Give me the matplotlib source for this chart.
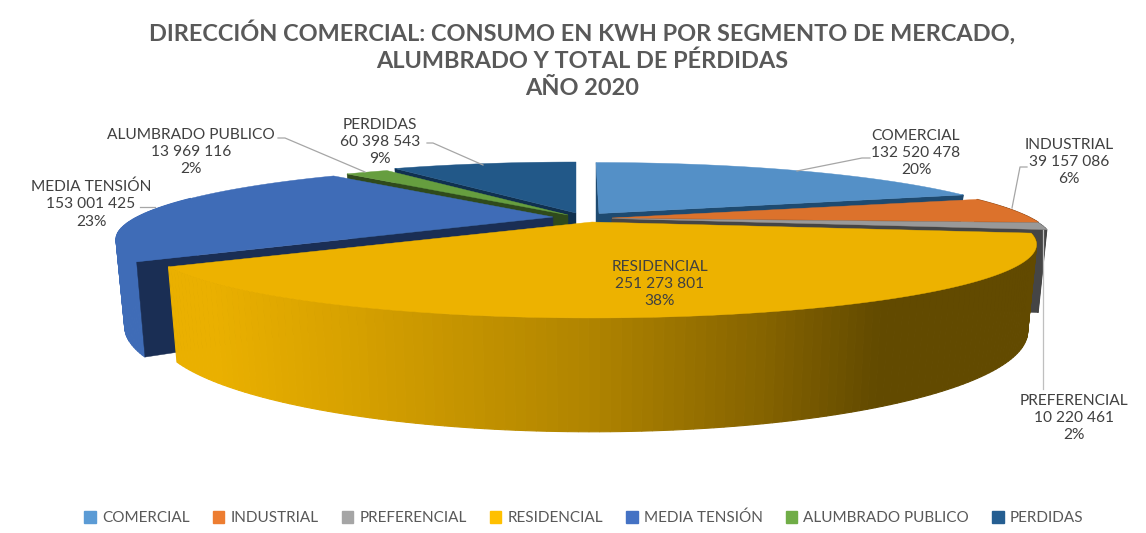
import numpy as np
import matplotlib
matplotlib.use("Agg")
import matplotlib.pyplot as plt
from matplotlib.patches import Patch

plt.rcParams['font.family'] = ['Lato', 'DejaVu Sans']

# datos
categorias = ["COMERCIAL", "INDUSTRIAL", "PREFERENCIAL", "RESIDENCIAL",
              "MEDIA TENSIÓN", "ALUMBRADO PUBLICO", "PERDIDAS"]
consumo = [132520478, 39157086, 10220461, 251273801, 153001425, 13969116, 60398543]

# estilo de cada porcion
color_top = ["#5490C7", "#DC722C", "#999999", "#EDB200", "#3F6CB7", "#669E3F", "#225888"]
color_pared = ["#1E4A70", "#7A3F14", "#454545", "#6B5000", "#1A2E54", "#2F4A1C", "#10304F"]
color_borde = ["#1E4A70", "#7A3F14", "#454545", "#EDB200", "#3F6CB7", "#2F4A1C", "#10304F"]
color_leyenda = ["#5B9BD5", "#ED7D31", "#A5A5A5", "#FFC000", "#4472C4", "#70AD47", "#255E91"]
vertices = [(599, 213.5), (612, 218), (612, 218.5), (592, 222), (553, 217), (568, 215), (576, 213)]
escala = [1, 1, 1, 1.01, 0.993, 1, 1]
sesgo = [3, 0, 0, 0, 0, 0, 0]
pos_texto = [(916, 153), (1069, 162), (1074, 418), (660, 284), (91, 204), (191, 152), (380, 142)]
lineas = [
    [(870, 158), (862, 158), (797, 171)],
    [(1027, 167), (1020, 167), (1012, 208)],
    [(1043, 389), (1043, 230)],
    [],
    [(140, 207), (155, 207)],
    [(278, 138), (285, 138), (365, 172)],
    [(427, 143), (433, 143), (483, 165)],
]
color_linea = ["#A6A6A6", "#A6A6A6", "#BFBFBF", "#A6A6A6", "#A6A6A6", "#A6A6A6", "#A6A6A6"]

# perspectiva de la elipse
A, B, K, D0 = 419.0, 66.6, 0.306, 79.0
LIM_VIS = np.degrees(np.arccos(K))  # la pared exterior se ve entre estos angulos


def proyectar(theta, i, z=0.0, r=1.0):
    th = np.radians(theta)
    u = r * np.sin(th)
    v = -r * np.cos(th)
    den = 1 - K * v
    x = vertices[i][0] + A * escala[i] * u / den * (1 - 0.02 * z) + sesgo[i] * v
    y = vertices[i][1] + B * v / den + z * D0 / den
    return x, y


def color_residencial(x):
    # degradado de la pared de la porcion amarilla
    xs = [210, 340, 590, 760, 880, 1040]
    rs = [234, 216, 176, 134, 98, 98]
    gs = [176, 162, 132, 100, 74, 74]
    return (np.interp(x, xs, rs) / 255, np.interp(x, xs, gs) / 255, 0)


def pared_radial(ang, i, capa):
    x0, y0 = proyectar(ang, i, 0, 0)
    x1, y1 = proyectar(ang, i, 0)
    x2, y2 = proyectar(ang, i, 1)
    x3, y3 = proyectar(ang, i, 1, 0)
    ax.fill([x0, x1, x2, x3], [y0, y1, y2, y3], color=color_pared[i], lw=0.3, zorder=capa)


fig = plt.figure(figsize=(11.46, 5.33), dpi=100, facecolor="white")
ax = fig.add_axes([0, 0, 1, 1])
ax.set_xlim(0, 1146)
ax.set_ylim(533, 0)
ax.axis("off")

total = sum(consumo)
fin = np.cumsum(consumo) / total * 360
ini = np.concatenate([[0], fin[:-1]])

# de atras hacia adelante
for capa, i in enumerate([6, 5, 4, 0, 1, 2, 3]):
    a0, a1 = ini[i], fin[i]
    th = np.linspace(a0, a1, 200)

    # pared exterior
    b0, b1 = max(a0, LIM_VIS), min(a1, 360 - LIM_VIS)
    if b1 > b0:
        tiras = np.linspace(b0, b1, max(2, int(b1 - b0)))
        for t0, t1 in zip(tiras[:-1], tiras[1:]):
            xa, ya = proyectar(t0, i, 0)
            xb, yb = proyectar(t1, i, 0)
            xc, yc = proyectar(t1, i, 1)
            xd, yd = proyectar(t0, i, 1)
            col = color_residencial((xa + xb) / 2) if i == 3 else color_borde[i]
            ax.fill([xa, xb, xc, xd], [ya, yb, yc, yd], color=col, lw=0.8, zorder=capa)

    # paredes radiales que miran hacia el frente
    if i in (0, 1, 2):
        pared_radial(a1, i, capa)
    if i in (0, 4, 5, 6):
        pared_radial(a0, i, capa)

    # cara superior
    xs, ys = proyectar(th, i, 0)
    ax.fill(np.r_[vertices[i][0], xs], np.r_[vertices[i][1], ys], color=color_top[i], lw=0.3, zorder=capa)

# etiquetas
for i, nombre in enumerate(categorias):
    num = f"{consumo[i]:,}".replace(",", " ")
    pct = round(consumo[i] / total * 100)
    ax.text(pos_texto[i][0], pos_texto[i][1], f"{nombre}\n{num}\n{pct}%", ha="center", va="center",
            fontsize=11.2, color="#404040", linespacing=1.3, zorder=20)
    if lineas[i]:
        lx, ly = zip(*lineas[i])
        ax.plot(lx, ly, color=color_linea[i], lw=0.9, zorder=15)

# titulo
ax.text(582, 59, "DIRECCIÓN COMERCIAL: CONSUMO EN KWH POR SEGMENTO DE MERCADO,\nALUMBRADO Y TOTAL DE PÉRDIDAS\nAÑO 2020",
        ha="center", va="center", fontsize=16.9, fontweight="bold", color="#595959", linespacing=1.34)

# leyenda
handles = [Patch(color=c, label=n) for c, n in zip(color_leyenda, categorias)]
fig.legend(handles=handles, loc="center", bbox_to_anchor=(584 / 1146, 1 - 518 / 533), ncol=7, frameon=False,
           fontsize=11, labelcolor="#595959", handlelength=0.75, handleheight=0.75, handletextpad=0.4,
           columnspacing=1.52)

fig.savefig("out.png", dpi=100)
